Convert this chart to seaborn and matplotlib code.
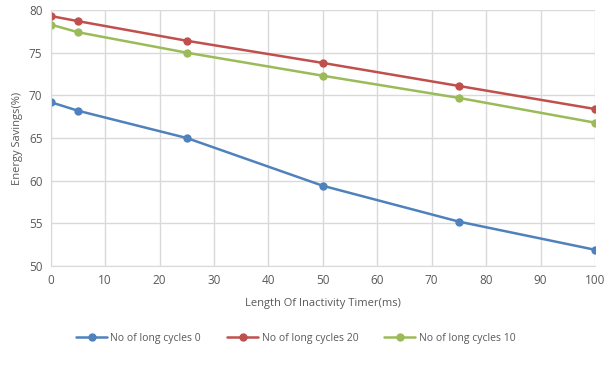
import pandas as pd
import matplotlib
matplotlib.use("Agg")
import matplotlib.pyplot as plt
import seaborn as sns

timer_ms = [0, 5, 25, 50, 75, 100]
cycles_0 = [69.2, 68.2, 65.0, 59.4, 55.2, 51.9]
cycles_20 = [79.3, 78.7, 76.4, 73.8, 71.1, 68.4]
cycles_10 = [78.3, 77.4, 75.0, 72.3, 69.7, 66.8]
series_names = ["No of long cycles 0", "No of long cycles 20", "No of long cycles 10"]
colors = ["#4F81BD", "#C0504D", "#9BBB59"]

df = pd.DataFrame({
    "timer": timer_ms * 3,
    "savings": cycles_0 + cycles_20 + cycles_10,
    "series": [s for s in series_names for _ in timer_ms],
})

sns.set_style("white")
plt.rcParams["font.family"] = ["Open Sans", "DejaVu Sans"]
text_color = "#595959"

fig, ax = plt.subplots(figsize=(6.04, 3.72), dpi=100)
fig.subplots_adjust(left=0.084, right=0.985, top=0.973, bottom=0.285)

sns.lineplot(data=df, x="timer", y="savings", hue="series", palette=colors,
             marker="o", markersize=6, markeredgewidth=0, linewidth=1.8, ax=ax)

ax.set_xlim(0, 100)
ax.set_ylim(50, 80)
ax.set_xticks(range(0, 101, 10))
ax.set_yticks(range(50, 81, 5))
ax.grid(True, color="#D9D9D9", linewidth=1)
ax.set_axisbelow(True)
for side in ["top", "right"]:
    ax.spines[side].set_visible(False)
for side in ["left", "bottom"]:
    ax.spines[side].set_color("#D9D9D9")
ax.tick_params(length=0, labelsize=8.5, colors=text_color, pad=6)
ax.set_xlabel("Length Of Inactivity Timer(ms)", fontsize=8, color=text_color, labelpad=8)
ax.set_ylabel("Energy Savings(%)", fontsize=8, color=text_color, labelpad=4)

ax.legend(loc="upper center", bbox_to_anchor=(0.45, -0.225), ncol=3, frameon=False,
          fontsize=7.5, labelcolor=text_color, handlelength=3, columnspacing=2.5,
          handletextpad=0.3)

fig.savefig("out.png", dpi=100)
